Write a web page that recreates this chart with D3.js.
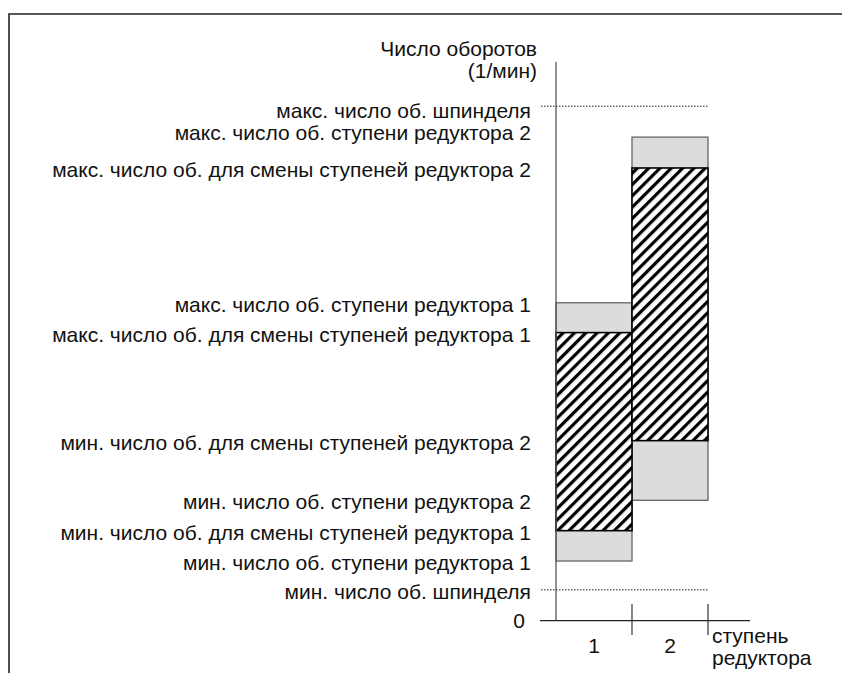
<!DOCTYPE html>
<html>
<head>
<meta charset="utf-8">
<script src="https://cdn.jsdelivr.net/npm/d3@7"></script>
<style>
  html, body { margin: 0; padding: 0; background: #fff; }
  svg { display: block; }
  text { font-family: "Liberation Sans", Arial, sans-serif; fill: #111; }
</style>
</head>
<body>
<svg id="chart" width="842" height="673"></svg>
<script>
// Gear stages on the x axis
const gears = ["1", "2"];

// Speed limits per gear stage (1/min, schematic units)
const gearMin      = [580, 1170];   // мин. число об. ступени редуктора
const gearMax      = [3090, 4700];  // макс. число об. ступени редуктора
const shiftMin     = [875, 1750];   // мин. число об. для смены ступеней
const shiftMax     = [2800, 4400];  // макс. число об. для смены ступеней

// Spindle limits
const spindleMin = 300;
const spindleMax = 5000;

// Left-hand labels, one per level
const levelLabels = [
  "макс. число об. шпинделя",
  "макс. число об. ступени редуктора 2",
  "макс. число об. для смены ступеней редуктора 2",
  "макс. число об. ступени редуктора 1",
  "макс. число об. для смены ступеней редуктора 1",
  "мин. число об. для смены ступеней редуктора 2",
  "мин. число об. ступени редуктора 2",
  "мин. число об. для смены ступеней редуктора 1",
  "мин. число об. ступени редуктора 1",
  "мин. число об. шпинделя"
];
const levelValues = [
  spindleMax, gearMax[1], shiftMax[1], gearMax[0], shiftMax[0],
  shiftMin[1], gearMin[1], shiftMin[0], gearMin[0], spindleMin
];

const yTitle = ["Число оборотов", "(1/мин)"];
const xTitle = ["ступень", "редуктора"];

const FS = 21;
const svg = d3.select("#chart");

// frame (top and left edges)
svg.append("path")
  .attr("d", "M9,673 V14 H842")
  .attr("fill", "none")
  .attr("stroke", "#222")
  .attr("stroke-width", 1.6);

// hatch pattern
const defs = svg.append("defs");
const pat = defs.append("pattern")
  .attr("id", "hatch")
  .attr("patternUnits", "userSpaceOnUse")
  .attr("width", 8).attr("height", 8)
  .attr("patternTransform", "rotate(45)");
pat.append("rect").attr("width", 8).attr("height", 8).attr("fill", "#fff");
pat.append("rect").attr("width", 3.2).attr("height", 8).attr("fill", "#000");

const y = d3.scaleLinear().domain([0, 5430]).range([620.7, 62]);
const x = d3.scaleBand().domain(gears).range([556, 708]).padding(0);

// the two top labels sit close together as one block
const labelShift = i => (i === 0 ? 4 : i === 1 ? -5 : 1.5);

// level labels on the left, right-aligned next to the axis
svg.append("g").selectAll("text")
  .data(levelLabels)
  .join("text")
  .attr("x", 531)
  .attr("y", (d, i) => y(levelValues[i]) + labelShift(i))
  .attr("dy", "0.36em")
  .attr("text-anchor", "end")
  .attr("font-size", FS)
  .text(d => d);

// dotted spindle limit lines
svg.append("g").selectAll("line")
  .data([spindleMax, spindleMin])
  .join("line")
  .attr("x1", 541).attr("x2", 708)
  .attr("y1", d => y(d)).attr("y2", d => y(d))
  .attr("stroke", "#222")
  .attr("stroke-width", 1)
  .attr("stroke-dasharray", "1.5,1.5");

// full speed range per gear (grey)
svg.append("g").selectAll("rect")
  .data(gears)
  .join("rect")
  .attr("x", d => x(d))
  .attr("width", x.bandwidth())
  .attr("y", (d, i) => y(gearMax[i]))
  .attr("height", (d, i) => y(gearMin[i]) - y(gearMax[i]))
  .attr("fill", "#dcdcdc")
  .attr("stroke", "#666")
  .attr("stroke-width", 1.3);

// gear-change range per gear (hatched)
svg.append("g").selectAll("rect")
  .data(gears)
  .join("rect")
  .attr("x", d => x(d))
  .attr("width", x.bandwidth())
  .attr("y", (d, i) => y(shiftMax[i]))
  .attr("height", (d, i) => y(shiftMin[i]) - y(shiftMax[i]))
  .attr("fill", "url(#hatch)")
  .attr("stroke", "#000")
  .attr("stroke-width", 1.6);

// y axis
svg.append("line")
  .attr("x1", 556).attr("x2", 556)
  .attr("y1", y.range()[1]).attr("y2", y(0))
  .attr("stroke", "#555").attr("stroke-width", 1.3);

// x axis
svg.append("line")
  .attr("x1", 540).attr("x2", 750)
  .attr("y1", y(0)).attr("y2", y(0))
  .attr("stroke", "#222").attr("stroke-width", 1.3);

// tick marks at the right end of each gear band
svg.append("g").selectAll("line")
  .data(gears)
  .join("line")
  .attr("x1", d => x(d) + x.bandwidth())
  .attr("x2", d => x(d) + x.bandwidth())
  .attr("y1", 604).attr("y2", 635)
  .attr("stroke", "#333").attr("stroke-width", 1.2);

// gear numbers
svg.append("g").selectAll("text")
  .data(gears)
  .join("text")
  .attr("x", d => x(d) + x.bandwidth() / 2)
  .attr("y", 653)
  .attr("text-anchor", "middle")
  .attr("font-size", FS)
  .text(d => d);

// zero label
svg.append("text")
  .attr("x", 525).attr("y", y(0))
  .attr("dy", "0.36em")
  .attr("text-anchor", "end")
  .attr("font-size", FS)
  .text("0");

// y title
svg.append("g").selectAll("text")
  .data(yTitle)
  .join("text")
  .attr("x", 537)
  .attr("y", (d, i) => 56 + i * 22)
  .attr("text-anchor", "end")
  .attr("font-size", FS)
  .text(d => d);

// x title
svg.append("g").selectAll("text")
  .data(xTitle)
  .join("text")
  .attr("x", 712)
  .attr("y", (d, i) => 643 + i * 22)
  .attr("font-size", FS)
  .text(d => d);
</script>
</body>
</html>
